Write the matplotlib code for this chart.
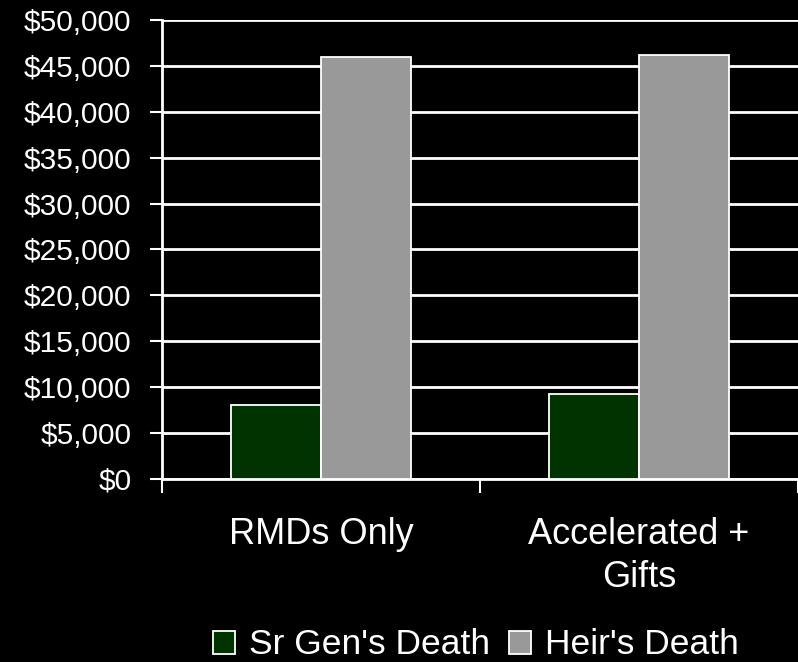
import matplotlib
matplotlib.use("Agg")
import matplotlib.pyplot as plt
import numpy as np

categories = ["RMDs Only", "Accelerated +\nGifts"]
series_names = ["Sr Gen's Death", "Heir's Death"]
sr_gen_death = [8100, 9250]
heir_death = [45950, 46200]
colors = ["#003300", "#999999"]
y_ticks = list(range(0, 50001, 5000))
y_tick_labels = [f"${v:,}" for v in y_ticks]

plt.rcParams["font.family"] = ["Liberation Sans", "DejaVu Sans"]

fig = plt.figure(figsize=(7.98, 6.62), dpi=100, facecolor="black")
ax = fig.add_axes([162 / 798, 1 - 479 / 662, 636 / 798, 459 / 662])
ax.set_facecolor("black")

x = np.arange(len(categories))
w = 0.283
ax.bar(x - w / 2, sr_gen_death, w, color=colors[0], edgecolor="white",
       linewidth=1.3, label=series_names[0], zorder=3)
ax.bar(x + w / 2, heir_death, w, color=colors[1], edgecolor="white",
       linewidth=1.3, label=series_names[1], zorder=3)

ax.set_xlim(-0.5, len(categories) - 0.5)
ax.set_ylim(0, 50000)
ax.set_yticks(y_ticks)
ax.set_yticklabels(y_tick_labels, color="white", fontsize=21.5)
ax.yaxis.grid(True, color="white", linewidth=2, zorder=0)
ax.set_axisbelow(True)

ax.set_xticks([-0.5, 0.5, 1.5])
ax.set_xticklabels([])
ax.set_xticks(x, minor=True)
ax.set_xticklabels(categories, minor=True, color="white", fontsize=26,
                   linespacing=1.3)
ax.tick_params(axis="x", which="minor", length=0, pad=27)
ax.tick_params(axis="x", which="major", length=10, width=1.5, color="white")
ax.tick_params(axis="y", length=9, width=1.5, color="white", pad=13)

for side in ["top", "right"]:
    ax.spines[side].set_visible(False)
for side in ["left", "bottom"]:
    ax.spines[side].set_color("white")
    ax.spines[side].set_linewidth(2)

leg = fig.legend(loc="center", bbox_to_anchor=(476 / 798, 1 - 645 / 662),
                 ncol=2, frameon=False, fontsize=25.5, handlelength=0.62,
                 handleheight=0.62, handletextpad=0.4, columnspacing=0.55,
                 borderpad=0)
for t in leg.get_texts():
    t.set_color("white")
for h in leg.legend_handles:
    h.set_edgecolor("white")
    h.set_linewidth(1.3)

fig.savefig("out.png", dpi=100, facecolor="black")
